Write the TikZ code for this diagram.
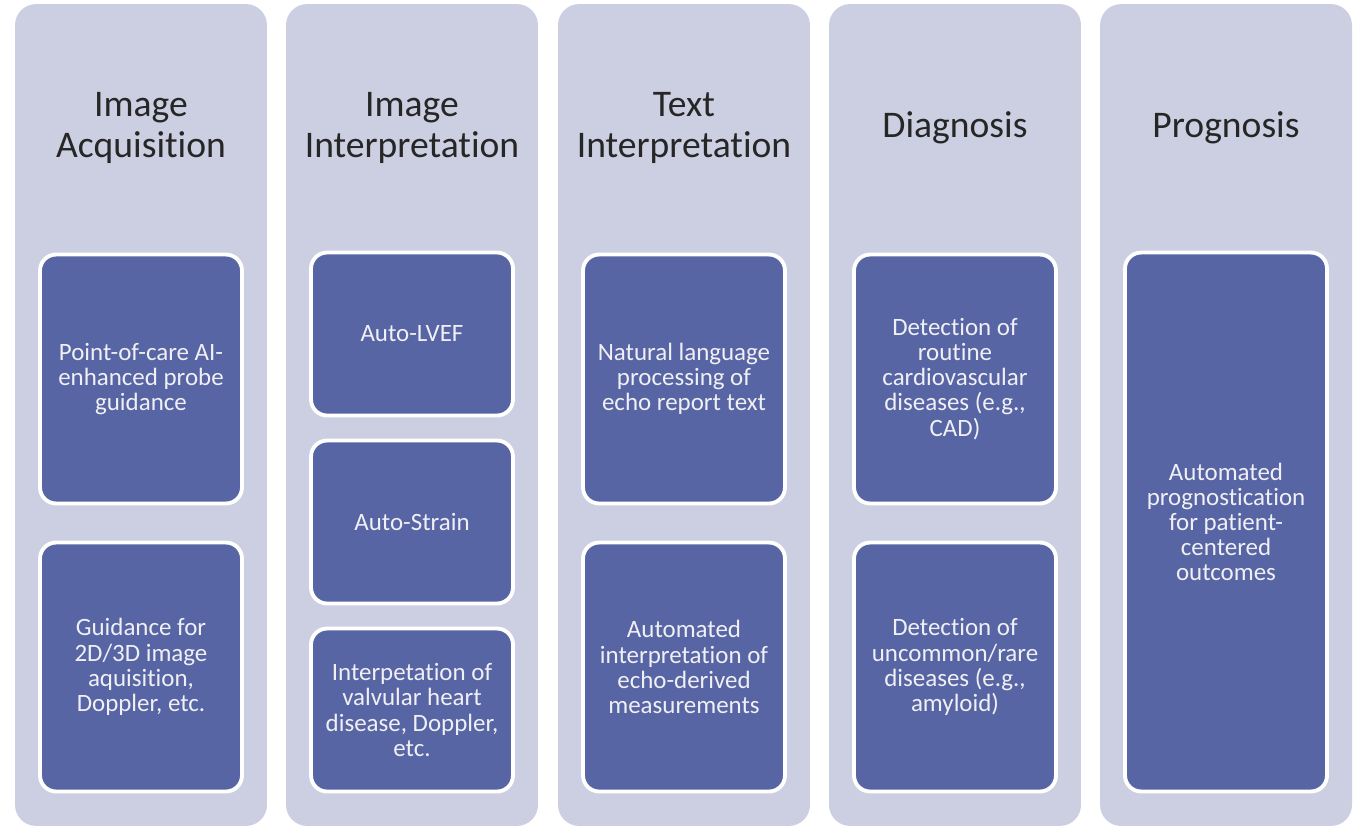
\documentclass[tikz,border=0pt]{standalone}
\usepackage{fontspec}
\setmainfont{Carlito}[Ligatures=NoCommon]
\definecolor{lane}{RGB}{204,207,225}
\definecolor{cardblue}{RGB}{87,101,165}
\definecolor{cardtext}{RGB}{240,240,244}
\begin{document}
\begin{tikzpicture}[x=0.02cm, y=-0.02cm,
	lanebox/.style={fill=lane, rounded corners=0.42cm, minimum width=5.04cm, minimum height=16.44cm, inner sep=0pt},
	lanetitle/.style={align=center, font=\fontsize{21.4}{23.3}\selectfont, text=black!85},
	card/.style={fill=cardblue, draw=white, line width=2.2pt, rounded corners=0.32cm, minimum width=4.04cm, align=center, text=cardtext, font=\fontsize{14.2}{14.3}\selectfont, inner sep=2pt},
	tall/.style={minimum height=4.98cm},
	short/.style={minimum height=3.26cm}]
		\useasboundingbox (0, 0) rectangle (1364, 833);
		
		% the five lanes
		\node[lanebox] (L1) at (141, 415) {};
		\node[lanebox] (L2) at (412, 415) {};
		\node[lanebox] (L3) at (684, 415) {};
		\node[lanebox] (L4) at (955, 415) {};
		\node[lanebox] (L5) at (1226, 415) {};
		
		% lane titles
		\node[lanetitle] (T1) at (141, 128) {Image\\Acquisition};
		\node[lanetitle] (T2) at (412, 128) {Image\\Interpretation};
		\node[lanetitle] (T3) at (684, 128) {Text\\Interpretation};
		\node[lanetitle] (T4) at (955, 128) {Diagnosis};
		\node[lanetitle] (T5) at (1226, 128) {Prognosis};
		
		% cards
		\node[card, tall] (A1) at (141, 379) {Point-of-care AI-\\enhanced probe\\guidance};
		\node[card, tall] (A2) at (141, 667) {Guidance for\\2D/3D image\\aquisition,\\Doppler, etc.};
		\node[card, short] (B1) at (412, 334) {Auto-LVEF};
		\node[card, short] (B2) at (412, 522) {Auto-Strain};
		\node[card, short] (B3) at (412, 710) {Interpetation of\\valvular heart\\disease, Doppler,\\etc.};
		\node[card, tall] (C1) at (684, 379) {Natural language\\processing of\\echo report text};
		\node[card, tall] (C2) at (684, 667) {Automated\\interpretation of\\echo-derived\\measurements};
		\node[card, tall] (D1) at (955, 379) {Detection of\\routine\\cardiovascular\\diseases (e.g.,\\CAD)};
		\node[card, tall] (D2) at (955, 667) {Detection of\\uncommon/rare\\diseases (e.g.,\\amyloid)};
		\node[card, minimum height=10.78cm] (E1) at (1226, 522) {Automated\\prognostication\\for patient-\\centered\\outcomes};
	\end{tikzpicture}
\end{document}
